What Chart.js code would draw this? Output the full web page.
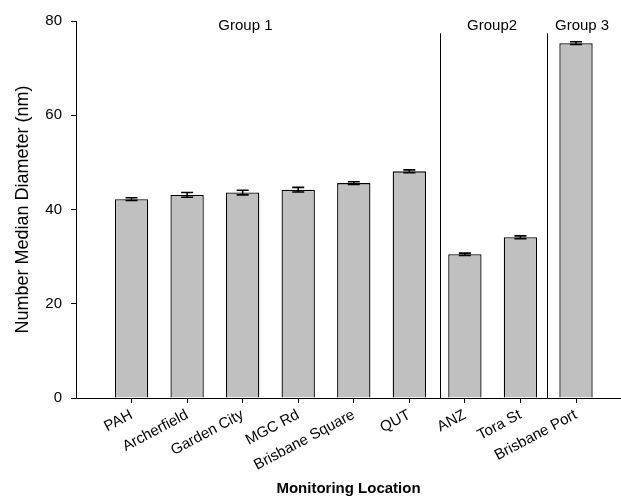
<!DOCTYPE html>
<html>
<head>
<meta charset="utf-8">
<script src="https://cdn.jsdelivr.net/npm/chart.js@4"></script>
<style>
html,body{margin:0;padding:0;background:#fff;}
#wrap{width:621px;height:498px;position:relative;}
</style>
</head>
<body>
<div id="wrap"><canvas id="c"></canvas></div>
<script>
const categories = ['PAH','Archerfield','Garden City','MGC Rd','Brisbane Square','QUT','ANZ','Tora St','Brisbane Port'];
const medianDiameter = [42.2, 43.1, 43.6, 44.2, 45.6, 48.1, 30.5, 34.1, 75.3];
const stdError = [0.3, 0.5, 0.5, 0.5, 0.3, 0.3, 0.25, 0.3, 0.3];
const yTicks = [0, 20, 40, 60, 80];
const groupNames = ['Group 1', 'Group2', 'Group 3'];
const groupCenters = [3.05, 7.49, 9.11];
const separators = [6.56, 8.48];

const FONT = "'Liberation Sans', Arial, sans-serif";
const positions = categories.map((_, i) => i + 1);

const errorBars = {
  id: 'errorBars',
  afterDatasetsDraw(chart) {
    const {ctx, scales: {x, y}} = chart;
    ctx.save();
    ctx.strokeStyle = '#000';
    ctx.lineWidth = 1.6;
    medianDiameter.forEach((v, i) => {
      const px = x.getPixelForValue(positions[i]);
      const t = y.getPixelForValue(v + stdError[i]);
      const b = y.getPixelForValue(v - stdError[i]);
      ctx.beginPath();
      ctx.moveTo(px, t); ctx.lineTo(px, b);
      ctx.moveTo(px - 6, t); ctx.lineTo(px + 6, t);
      ctx.moveTo(px - 6, b); ctx.lineTo(px + 6, b);
      ctx.stroke();
    });
    ctx.restore();
  }
};

const groups = {
  id: 'groups',
  afterDraw(chart) {
    const {ctx, scales: {x, y}} = chart;
    ctx.save();
    ctx.strokeStyle = '#000';
    ctx.lineWidth = 1;
    separators.forEach(s => {
      const px = Math.round(x.getPixelForValue(s)) + 0.5;
      ctx.beginPath();
      ctx.moveTo(px, y.getPixelForValue(77.4));
      ctx.lineTo(px, y.getPixelForValue(0));
      ctx.stroke();
    });
    ctx.fillStyle = '#000';
    ctx.font = '15px ' + FONT;
    ctx.textAlign = 'center';
    ctx.textBaseline = 'middle';
    groupNames.forEach((g, i) => {
      ctx.fillText(g, x.getPixelForValue(groupCenters[i]), y.getPixelForValue(78.9));
    });
    ctx.restore();
  }
};

new Chart(document.getElementById('c'), {
  type: 'bar',
  data: {
    datasets: [{
      data: medianDiameter.map((v, i) => ({x: positions[i], y: v})),
      backgroundColor: '#c0c0c0',
      borderColor: '#000',
      borderWidth: 1.3,
      barPercentage: 0.6,
      categoryPercentage: 1
    }]
  },
  options: {
    responsive: true,
    maintainAspectRatio: false,
    animation: false,
    layout: {padding: {top: 21, right: 0, left: 0, bottom: 0}},
    plugins: {legend: {display: false}, tooltip: {enabled: false}},
    scales: {
      x: {
        type: 'linear',
        min: 0,
        max: 9.81,
        offset: false,
        grid: {drawOnChartArea: false, offset: false, tickLength: 5, color: '#000'},
        border: {color: '#000', width: 1},
        afterBuildTicks: s => { s.ticks = positions.map(v => ({value: v})); },
        afterFit: s => { s.height = 100; },
        ticks: {
          autoSkip: false,
          minRotation: 28,
          maxRotation: 28,
          color: '#000',
          font: {family: FONT, size: 15},
          callback: v => categories[v - 1]
        },
        title: {display: true, text: 'Monitoring Location', color: '#000',
          font: {family: FONT, size: 15, weight: 'bold'}, padding: {top: 0, bottom: 0}}
      },
      y: {
        min: 0,
        max: 80,
        grid: {drawOnChartArea: false, tickLength: 5, color: '#000'},
        border: {color: '#000', width: 1},
        afterBuildTicks: s => { s.ticks = yTicks.map(v => ({value: v})); },
        afterFit: s => { s.width = 76; },
        ticks: {color: '#000', padding: 9, font: {family: FONT, size: 15}},
        title: {display: true, text: 'Number Median Diameter (nm)', color: '#000',
          font: {family: FONT, size: 18}, padding: {top: 12, bottom: 0}}
      }
    }
  },
  plugins: [errorBars, groups]
});
</script>
</body>
</html>
